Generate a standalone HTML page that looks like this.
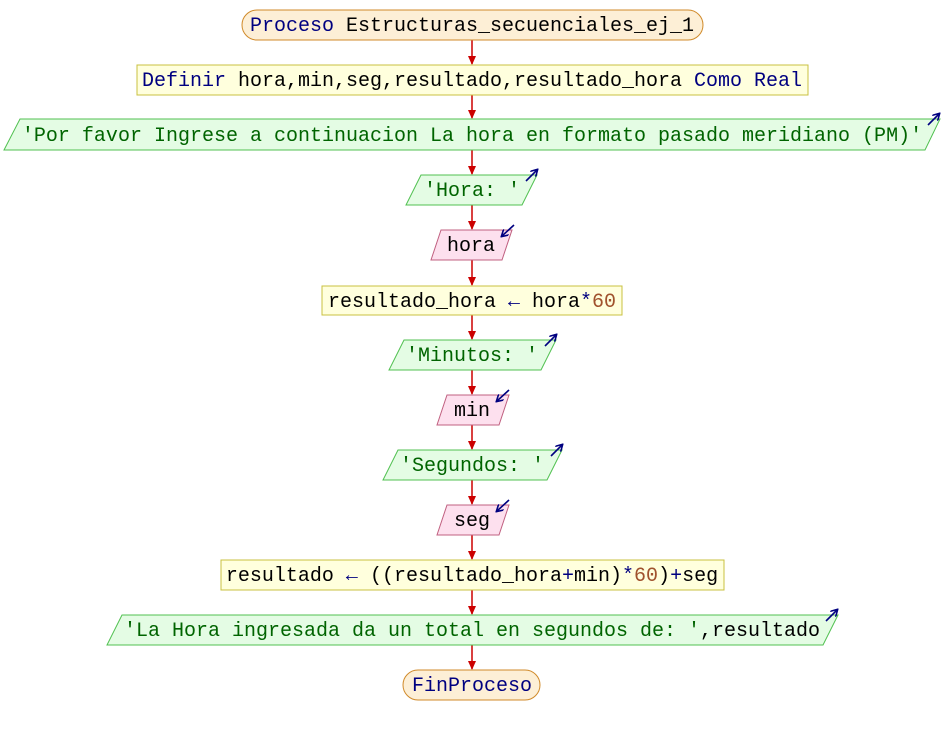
<!DOCTYPE html>
<html><head><meta charset="utf-8"><style>
html,body{margin:0;padding:0;background:#fff;width:944px;height:735px;overflow:hidden}
text{font-family:"Liberation Mono","DejaVu Sans Mono",monospace;font-size:20px}
.k{fill:#000080}.i{fill:#000}.s{fill:#006400}.n{fill:#a0522d}
</style></head><body>
<svg width="944" height="735" xmlns="http://www.w3.org/2000/svg">
<defs>
<marker id="ah" markerWidth="10" markerHeight="10" refX="8" refY="5" orient="auto" markerUnits="userSpaceOnUse"><path d="M0,1 L9,5 L0,9 Z" fill="#cc0000"/></marker>
<marker id="bh" markerWidth="8" markerHeight="8" refX="6" refY="4" orient="auto" markerUnits="userSpaceOnUse"><path d="M0,0 L7,4 L0,8" fill="none" stroke="#000080" stroke-width="1.6"/></marker>
</defs>
<g stroke="#cc0000" stroke-width="1.5" marker-end="url(#ah)">
<line x1="472" y1="40" x2="472" y2="64"/>
<line x1="472" y1="95" x2="472" y2="118"/>
<line x1="472" y1="150" x2="472" y2="174"/>
<line x1="472" y1="205" x2="472" y2="229"/>
<line x1="472" y1="260" x2="472" y2="285"/>
<line x1="472" y1="315" x2="472" y2="339"/>
<line x1="472" y1="370" x2="472" y2="394"/>
<line x1="472" y1="425" x2="472" y2="449"/>
<line x1="472" y1="480" x2="472" y2="504"/>
<line x1="472" y1="535" x2="472" y2="559"/>
<line x1="472" y1="590" x2="472" y2="614"/>
<line x1="472" y1="645" x2="472" y2="669"/>
</g>
<!-- shapes -->
<rect x="242" y="10" width="461" height="30" rx="15" fill="#fdefd6" stroke="#d08a2a"/>
<rect x="137" y="65" width="671" height="30" fill="#ffffdd" stroke="#c8c040"/>
<polygon points="20,119 940,119 925,150 4,150" fill="#e4fce4" stroke="#50c050"/>
<polygon points="421,175 537,175 522,205 406,205" fill="#e4fce4" stroke="#50c050"/>
<polygon points="441,230 512,230 502,260 431,260" fill="#fde0ee" stroke="#c06080"/>
<rect x="322" y="286" width="300" height="29" fill="#ffffdd" stroke="#c8c040"/>
<polygon points="404,340 556,340 541,370 389,370" fill="#e4fce4" stroke="#50c050"/>
<polygon points="447,395 509,395 499,425 437,425" fill="#fde0ee" stroke="#c06080"/>
<polygon points="398,450 562,450 547,480 383,480" fill="#e4fce4" stroke="#50c050"/>
<polygon points="447,505 509,505 499,535 437,535" fill="#fde0ee" stroke="#c06080"/>
<rect x="221" y="560" width="503" height="30" fill="#ffffdd" stroke="#c8c040"/>
<polygon points="122,615 838,615 823,645 107,645" fill="#e4fce4" stroke="#50c050"/>
<rect x="403" y="670" width="137" height="30" rx="15" fill="#fdefd6" stroke="#d08a2a"/>
<!-- io arrows -->
<g stroke="#000080" stroke-width="1.6" marker-end="url(#bh)">
<line x1="928" y1="125" x2="939" y2="114"/>
<line x1="526" y1="181" x2="537" y2="170"/>
<line x1="514" y1="225" x2="502" y2="236"/>
<line x1="545" y1="346" x2="556" y2="335"/>
<line x1="509" y1="390" x2="497" y2="401"/>
<line x1="551" y1="456" x2="562" y2="445"/>
<line x1="509" y1="500" x2="497" y2="511"/>
<line x1="826" y1="621" x2="837" y2="610"/>
</g>
<!-- text -->
<g text-anchor="middle">
<text x="472" y="31"><tspan class="k">Proceso</tspan><tspan class="i"> Estructuras_secuenciales_ej_1</tspan></text>
<text x="472" y="86"><tspan class="k">Definir</tspan><tspan class="i"> hora,min,seg,resultado,resultado_hora </tspan><tspan class="k">Como Real</tspan></text>
<text x="472" y="141" class="s">'Por favor Ingrese a continuacion La hora en formato pasado meridiano (PM)'</text>
<text x="472" y="196" class="s">'Hora: '</text>
<text x="471" y="251" class="i">hora</text>
<text x="472" y="307"><tspan class="i">resultado_hora </tspan><tspan class="k">←</tspan><tspan class="i"> hora</tspan><tspan class="k">*</tspan><tspan class="n">60</tspan></text>
<text x="472" y="361" class="s">'Minutos: '</text>
<text x="472" y="416" class="i">min</text>
<text x="472" y="471" class="s">'Segundos: '</text>
<text x="472" y="526" class="i">seg</text>
<text x="472" y="581"><tspan class="i">resultado </tspan><tspan class="k">←</tspan><tspan class="i"> ((resultado_hora</tspan><tspan class="k">+</tspan><tspan class="i">min)</tspan><tspan class="k">*</tspan><tspan class="n">60</tspan><tspan class="i">)</tspan><tspan class="k">+</tspan><tspan class="i">seg</tspan></text>
<text x="472" y="636"><tspan class="s">'La Hora ingresada da un total en segundos de: '</tspan><tspan class="i">,resultado</tspan></text>
<text x="472" y="691" class="k">FinProceso</text>
</g>
</svg>
</body></html>
